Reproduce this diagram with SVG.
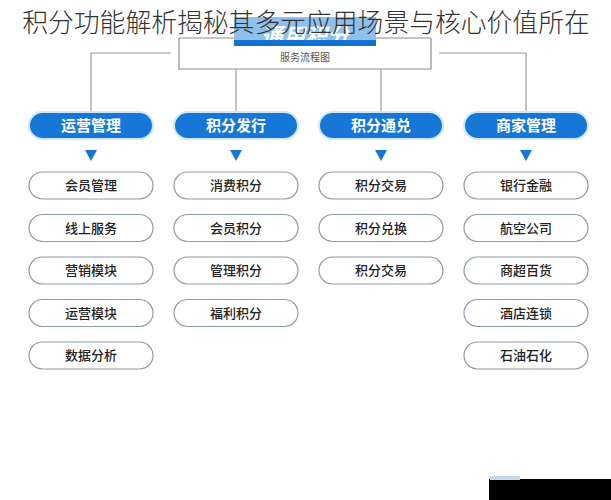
<svg xmlns="http://www.w3.org/2000/svg" width="611" height="500" viewBox="0 0 611 500">
<style>
text{font-family:"Noto Sans CJK SC","Noto Sans",sans-serif;text-anchor:middle}
.hd rect{fill:#1677d6;stroke:#cfe8f8;stroke-width:2}
.hd text{fill:#fff;font-size:15px;font-weight:bold}
.it rect{fill:#fff;stroke:#8e9ca6;stroke-width:1.2}
.it text{fill:#222;font-size:13px;font-weight:500}
.tri{fill:#1677d6}
.conn{stroke:#9a9a9a;stroke-width:1.2;fill:none}
</style>
<rect width="611" height="500" fill="#fff"/>
<g id="top">
<rect x="234" y="17" width="142" height="24" fill="#8fc0ea"/>
<text x="305" y="44" font-size="22" font-weight="bold" font-style="italic" fill="#ffffff">通用积分</text>
<rect x="234" y="40" width="142" height="6" fill="#1672d2"/>
<rect x="179" y="46" width="252" height="23" fill="#fff"/>
<path d="M179 38 V69 H431 V38" fill="none" stroke="#8e8e8e" stroke-width="1.2"/>
<line x1="179" y1="38" x2="234" y2="38" stroke="#8e8e8e" stroke-width="1.2"/>
<line x1="376" y1="38" x2="431" y2="38" stroke="#8e8e8e" stroke-width="1.2"/>
<text x="305" y="61" font-size="10" fill="#555">服务流程图</text>
</g>
<text id="title" x="306" y="32" font-size="25.8" font-weight="300" fill="#333">积分功能解析揭秘其多元应用场景与核心价值所在</text>
<g id="connectors" class="conn">
<path d="M171 53 H91 V112"/>
<path d="M439 53 H526 V112"/>
<path d="M236 69 V112"/>
<path d="M381 69 V112"/>
</g>
<g id="arrows" class="tri">
<polygon points="85,150 97,150 91,161"/>
<polygon points="230,150 242,150 236,161"/>
<polygon points="375,150 387,150 381,161"/>
<polygon points="520,150 532,150 526,161"/>
</g>
<g id="h1" class="hd"><rect x="29" y="112" width="124" height="27" rx="13.5"/><text x="91" y="131">运营管理</text></g>
<g id="h2" class="hd"><rect x="174" y="112" width="124" height="27" rx="13.5"/><text x="236" y="131">积分发行</text></g>
<g id="h3" class="hd"><rect x="319" y="112" width="124" height="27" rx="13.5"/><text x="381" y="131">积分通兑</text></g>
<g id="h4" class="hd"><rect x="464" y="112" width="124" height="27" rx="13.5"/><text x="526" y="131">商家管理</text></g>

<g id="c1a" class="it"><rect x="29" y="172" width="124" height="27" rx="13.5"/><text x="91" y="190">会员管理</text></g>
<g id="c1b" class="it"><rect x="29" y="214.5" width="124" height="27" rx="13.5"/><text x="91" y="232.5">线上服务</text></g>
<g id="c1c" class="it"><rect x="29" y="257" width="124" height="27" rx="13.5"/><text x="91" y="275">营销模块</text></g>
<g id="c1d" class="it"><rect x="29" y="299.5" width="124" height="27" rx="13.5"/><text x="91" y="317.5">运营模块</text></g>
<g id="c1e" class="it"><rect x="29" y="342" width="124" height="27" rx="13.5"/><text x="91" y="360">数据分析</text></g>

<g id="c2a" class="it"><rect x="174" y="172" width="124" height="27" rx="13.5"/><text x="236" y="190">消费积分</text></g>
<g id="c2b" class="it"><rect x="174" y="214.5" width="124" height="27" rx="13.5"/><text x="236" y="232.5">会员积分</text></g>
<g id="c2c" class="it"><rect x="174" y="257" width="124" height="27" rx="13.5"/><text x="236" y="275">管理积分</text></g>
<g id="c2d" class="it"><rect x="174" y="299.5" width="124" height="27" rx="13.5"/><text x="236" y="317.5">福利积分</text></g>

<g id="c3a" class="it"><rect x="319" y="172" width="124" height="27" rx="13.5"/><text x="381" y="190">积分交易</text></g>
<g id="c3b" class="it"><rect x="319" y="214.5" width="124" height="27" rx="13.5"/><text x="381" y="232.5">积分兑换</text></g>
<g id="c3c" class="it"><rect x="319" y="257" width="124" height="27" rx="13.5"/><text x="381" y="275">积分交易</text></g>

<g id="c4a" class="it"><rect x="464" y="172" width="124" height="27" rx="13.5"/><text x="526" y="190">银行金融</text></g>
<g id="c4b" class="it"><rect x="464" y="214.5" width="124" height="27" rx="13.5"/><text x="526" y="232.5">航空公司</text></g>
<g id="c4c" class="it"><rect x="464" y="257" width="124" height="27" rx="13.5"/><text x="526" y="275">商超百货</text></g>
<g id="c4d" class="it"><rect x="464" y="299.5" width="124" height="27" rx="13.5"/><text x="526" y="317.5">酒店连锁</text></g>
<g id="c4e" class="it"><rect x="464" y="342" width="124" height="27" rx="13.5"/><text x="526" y="360">石油石化</text></g>

<g id="badge">
<rect x="489" y="479" width="122" height="21" fill="#000"/>
<rect x="490" y="476" width="30" height="4" fill="#c9d8e8"/>
</g>
</svg>
